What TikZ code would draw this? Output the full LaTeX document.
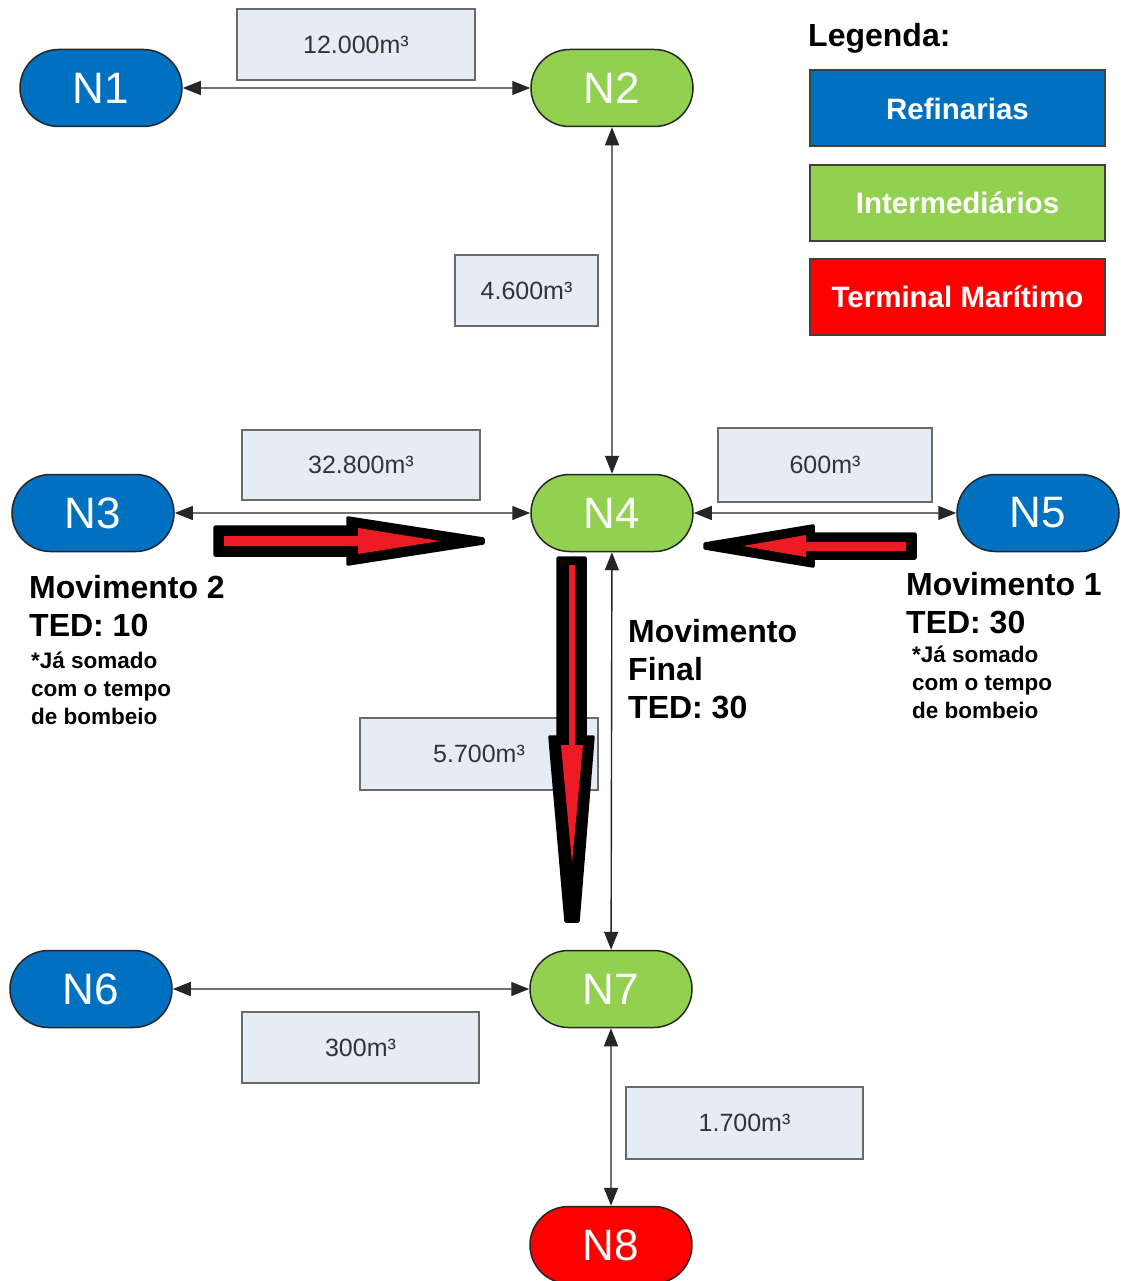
\documentclass[tikz,border=0pt]{standalone}
\usepackage{fontspec}
\setmainfont{Liberation Sans}
\usetikzlibrary{shapes.misc,arrows.meta}
\definecolor{refblue}{HTML}{0070C0}
\definecolor{intgreen}{HTML}{92D050}
\definecolor{termred}{HTML}{FF0000}
\definecolor{boxfill}{HTML}{E6ECF6}
\definecolor{boxline}{HTML}{6A6A6A}
\definecolor{movred}{HTML}{ED1C24}
\newcommand{\fs}[1]{\fontsize{#1}{#1}\selectfont}
\tikzset{
  pill/.style={rounded rectangle, draw=black!85, line width=1.5pt,
    minimum width=162pt, minimum height=77pt, inner sep=0pt,
    text=white, font=\fs{44}},
  refn/.style={pill, fill=refblue},
  intn/.style={pill, fill=intgreen},
  termn/.style={pill, fill=termred},
  vol/.style={rectangle, draw=boxline, line width=1.5pt, fill=boxfill,
    inner sep=0pt, text=black!80, font=\fs{25}},
  legbox/.style={rectangle, draw=black!75, line width=2pt, inner sep=0pt,
    minimum width=295pt, minimum height=76pt, text=white, font=\bfseries\fs{29.5}},
  conn/.style={draw=black!85, line width=1.4pt,
    {Triangle[length=18pt,width=14pt]}-{Triangle[length=18pt,width=14pt]}},
  big/.style={anchor=base west, font=\bfseries\fs{32}, inner sep=0pt},
  small/.style={anchor=base west, font=\bfseries\fs{22.5}, inner sep=0pt},
  outline/.style={fill=black, draw=black, line width=3.5pt, line join=round},
  inner/.style={fill=movred}
}
\begin{document}
\begin{tikzpicture}[x=1pt,y=-1pt]
\useasboundingbox (0,0) rectangle (1121,1281);
\fill[white] (0,0) rectangle (1121,1281);

% volume boxes
\node[vol, minimum width=238pt, minimum height=71pt] (v12) at (356,44.5) {12.000m³};
\node[vol, minimum width=143pt, minimum height=71pt] (v46) at (526.5,290.5) {4.600m³};
\node[vol, minimum width=238pt, minimum height=70pt] (v328) at (361,465) {32.800m³};
\node[vol, minimum width=214pt, minimum height=74pt] (v600) at (825,465) {600m³};
\node[vol, minimum width=238pt, minimum height=72pt] (v57) at (479,754) {5.700m³};
\node[vol, minimum width=237pt, minimum height=71pt] (v300) at (360.5,1047.5) {300m³};
\node[vol, minimum width=237pt, minimum height=72pt] (v17) at (744.5,1123) {1.700m³};

% network nodes
\node[refn]  (n1) at (101,88)  {N1};
\node[intn]  (n2) at (612,88)  {N2};
\node[refn]  (n3) at (93,513)  {N3};
\node[intn]  (n4) at (612,513) {N4};
\node[refn]  (n5) at (1038,513) {N5};
\node[refn]  (n6) at (91,989)  {N6};
\node[intn]  (n7) at (611,989) {N7};
\node[termn] (n8) at (611,1245) {N8};

% pipelines
\draw[conn] (n1) -- (n2);
\draw[conn] (n2) -- (n4);
\draw[conn] (n3) -- (n4);
\draw[conn] (n4) -- (n5);
\draw[conn] (n4) -- (n7);
\draw[conn] (n6) -- (n7);
\draw[conn] (n7) -- (n8);

% movement arrows
\draw[outline] (215,527) -- (348,527) -- (348,518) -- (483,539) -- (483,543) -- (348,564) -- (348,555) -- (215,555) -- cycle;
\fill[inner] (224,536) -- (358,536) -- (358,528) -- (440,541) -- (358,554) -- (358,546) -- (224,546) -- cycle;

\draw[outline] (915,534) -- (813,534) -- (813,526) -- (705,544) -- (705,548) -- (813,566) -- (813,558) -- (915,558) -- cycle;
\fill[inner] (906,542) -- (806,542) -- (806,535) -- (743,546) -- (806,557) -- (806,551) -- (906,551) -- cycle;

\draw[outline] (558,558) -- (585,558) -- (585,737) -- (593,737) -- (578,921) -- (566,921) -- (550,737) -- (558,737) -- cycle;
\fill[inner] (569,565) -- (575,565) -- (575,745) -- (583,745) -- (572,863) -- (561,745) -- (569,745) -- cycle;

% movement notes
\node[big] (m2a) at (29,598) {Movimento 2};
\node[big] (m2b) at (29,636) {TED: 10};
\node[small] (m2c) at (31,668) {*Já somado};
\node[small] (m2d) at (31,696) {com o tempo};
\node[small] (m2e) at (31,724) {de bombeio};

\node[big] (m1a) at (906,595) {Movimento 1};
\node[big] (m1b) at (906,633) {TED: 30};
\node[small] (m1c) at (912,662) {*Já somado};
\node[small] (m1d) at (912,690) {com o tempo};
\node[small] (m1e) at (912,718) {de bombeio};

\node[big] (mfa) at (628,642) {Movimento};
\node[big] (mfb) at (628,680) {Final};
\node[big] (mfc) at (628,718) {TED: 30};

% legend
\node[anchor=base west, inner sep=0pt, font=\bfseries\fs{32}] (leg) at (808,47) {Legenda:};
\node[legbox, fill=refblue]  (l1) at (957.5,108.5) {Refinarias};
\node[legbox, fill=intgreen] (l2) at (957.5,203) {Intermediários};
\node[legbox, fill=termred]  (l3) at (957.5,297) {Terminal Marítimo};
\end{tikzpicture}
\end{document}
